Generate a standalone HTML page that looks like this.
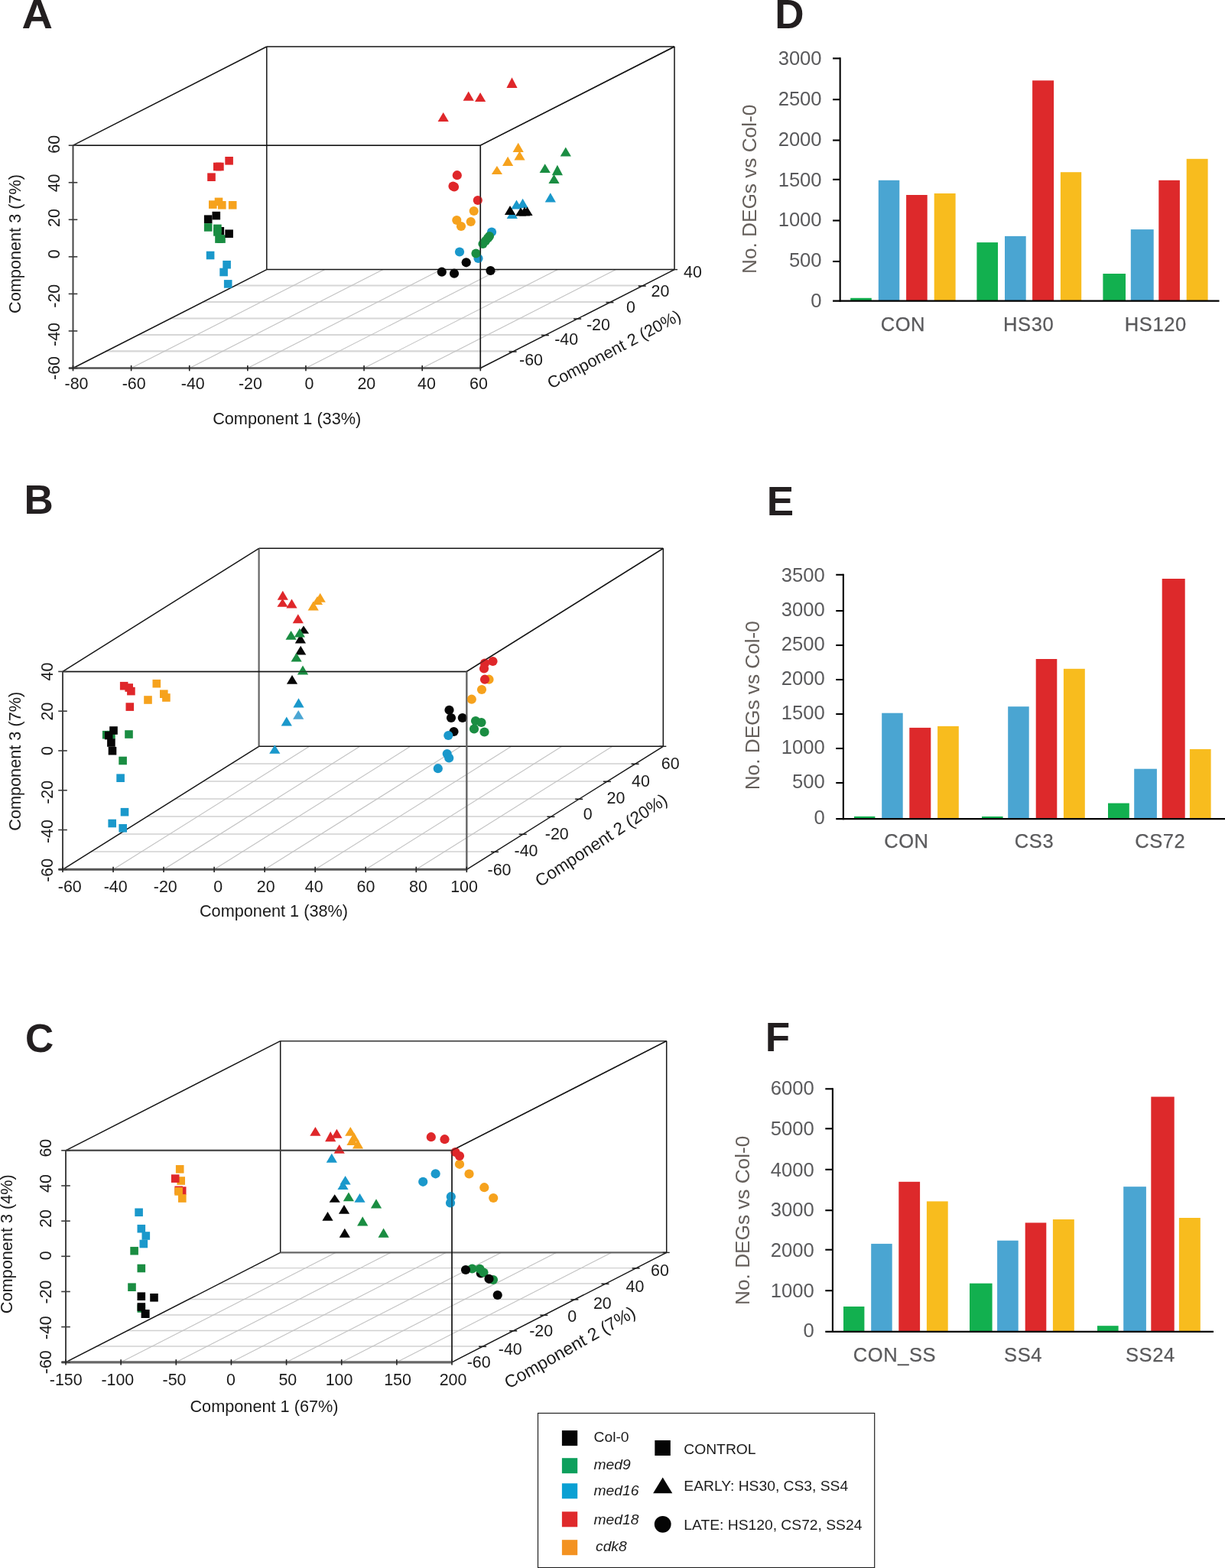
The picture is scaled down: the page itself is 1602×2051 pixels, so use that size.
<!DOCTYPE html>
<html lang="en"><head><meta charset="utf-8"><title>Figure</title>
<style>
html,body{margin:0;padding:0;background:#fff}
body{width:1602px;height:2051px;overflow:hidden}
svg{display:block}
svg text{font-family:"Liberation Sans",sans-serif}
</style></head><body>
<svg width="1602" height="2051" viewBox="0 0 1602 2051">
<rect width="1602" height="2051" fill="#fff"/>
<g>
<line x1="137.78" y1="459.42" x2="670.58" y2="459.42" stroke="#d6d6d6" stroke-width="2.1"/>
<line x1="180.07" y1="437.93" x2="712.87" y2="437.93" stroke="#d6d6d6" stroke-width="2.1"/>
<line x1="222.35" y1="416.45" x2="755.15" y2="416.45" stroke="#d6d6d6" stroke-width="2.1"/>
<line x1="264.63" y1="394.97" x2="797.43" y2="394.97" stroke="#d6d6d6" stroke-width="2.1"/>
<line x1="306.92" y1="373.48" x2="839.72" y2="373.48" stroke="#d6d6d6" stroke-width="2.1"/>
<line x1="171.61" y1="481.5" x2="424.91" y2="352.6" stroke="#c2c2c2" stroke-width="1.1"/>
<line x1="247.73" y1="481.5" x2="501.03" y2="352.6" stroke="#c2c2c2" stroke-width="1.1"/>
<line x1="323.84" y1="481.5" x2="577.14" y2="352.6" stroke="#c2c2c2" stroke-width="1.1"/>
<line x1="399.96" y1="481.5" x2="653.26" y2="352.6" stroke="#c2c2c2" stroke-width="1.1"/>
<line x1="476.07" y1="481.5" x2="729.37" y2="352.6" stroke="#c2c2c2" stroke-width="1.1"/>
<line x1="552.19" y1="481.5" x2="805.49" y2="352.6" stroke="#c2c2c2" stroke-width="1.1"/>
<line x1="348.8" y1="61" x2="882" y2="61" stroke="#151515" stroke-width="1.5"/>
<line x1="348.8" y1="61" x2="348.8" y2="352.6" stroke="#151515" stroke-width="1.5"/>
<line x1="348.8" y1="352.6" x2="882" y2="352.6" stroke="#151515" stroke-width="1.5"/>
<line x1="882" y1="61" x2="882" y2="352.6" stroke="#151515" stroke-width="1.5"/>
<line x1="95.5" y1="190.2" x2="348.8" y2="61" stroke="#151515" stroke-width="1.5"/>
<line x1="95.5" y1="481.5" x2="348.8" y2="352.6" stroke="#151515" stroke-width="1.5"/>
<line x1="628.3" y1="481.5" x2="882" y2="352.6" stroke="#151515" stroke-width="1.45"/>
<line x1="628.3" y1="190.2" x2="882" y2="61" stroke="#151515" stroke-width="1.5"/>
<line x1="95.5" y1="190.2" x2="628.3" y2="190.2" stroke="#151515" stroke-width="1.5"/>
<line x1="628.3" y1="190.2" x2="628.3" y2="481.5" stroke="#151515" stroke-width="1.5"/>
<rect x="282.5" y="297" width="10.6" height="10.6" fill="#060606"/>
<rect x="266.9" y="292.1" width="10.6" height="10.6" fill="#1a8d42"/>
<rect x="279.1" y="293.6" width="10.6" height="10.6" fill="#1a8d42"/>
<rect x="279.1" y="298.1" width="10.6" height="10.6" fill="#1a8d42"/>
<rect x="281.2" y="307.3" width="10.6" height="10.6" fill="#1a8d42"/>
<rect x="284.2" y="307.3" width="10.6" height="10.6" fill="#1a8d42"/>
<rect x="277.5" y="276.8" width="10.6" height="10.6" fill="#060606"/>
<rect x="266.9" y="281.4" width="10.6" height="10.6" fill="#060606"/>
<rect x="294.3" y="300.4" width="10.6" height="10.6" fill="#060606"/>
<rect x="294.3" y="205" width="10.6" height="10.6" fill="#df272a"/>
<rect x="279" y="212.7" width="10.6" height="10.6" fill="#df272a"/>
<rect x="282.1" y="212.7" width="10.6" height="10.6" fill="#df272a"/>
<rect x="271.2" y="226.4" width="10.6" height="10.6" fill="#df272a"/>
<rect x="273" y="262.3" width="10.6" height="10.6" fill="#f6a21d"/>
<rect x="280.7" y="258.6" width="10.6" height="10.6" fill="#f6a21d"/>
<rect x="285" y="263" width="10.6" height="10.6" fill="#f6a21d"/>
<rect x="298.9" y="263" width="10.6" height="10.6" fill="#f6a21d"/>
<rect x="269.8" y="328.7" width="10.6" height="10.6" fill="#1a98cb"/>
<rect x="291.3" y="340.9" width="10.6" height="10.6" fill="#1a98cb"/>
<rect x="287.3" y="350.7" width="10.6" height="10.6" fill="#1a98cb"/>
<rect x="292.9" y="366.1" width="10.6" height="10.6" fill="#1a98cb"/>
<path d="M669.5 101.2L676.6 115H662.4Z" fill="#df272a"/>
<path d="M612.7 119.6L619.8 131.8H605.6Z" fill="#df272a"/>
<path d="M628.1 121L635.2 133.1H621Z" fill="#df272a"/>
<path d="M579.7 147L586.8 159H572.6Z" fill="#df272a"/>
<path d="M677.7 186.7L684.8 198.9H670.6Z" fill="#f6a21d"/>
<path d="M679.5 197.4L686.6 209.5H672.4Z" fill="#f6a21d"/>
<path d="M664.1 204.8L671.2 217.1H657Z" fill="#f6a21d"/>
<path d="M649.9 217.1L657 227.9H642.8Z" fill="#f6a21d"/>
<path d="M739.8 192.4L746.9 204.6H732.7Z" fill="#1a8d42"/>
<path d="M712.7 214.2L719.8 226.1H705.6Z" fill="#1a8d42"/>
<path d="M728.9 215.8L736 229.2H721.8Z" fill="#1a8d42"/>
<path d="M724.5 228L731.6 240H717.4Z" fill="#1a8d42"/>
<path d="M719.8 252.3L726.9 264.4H712.7Z" fill="#1a98cb"/>
<path d="M669.8 274L676.9 286H662.7Z" fill="#1a98cb"/>
<path d="M675.5 261.6L682.6 273.5H668.4Z" fill="#1a98cb"/>
<path d="M683.6 259.8L690.7 272H676.5Z" fill="#1a98cb"/>
<path d="M667 269.1L674.1 281H659.9Z" fill="#060606"/>
<path d="M681 271.5L688.1 282.5H673.9Z" fill="#060606"/>
<path d="M686 270.5L693.1 282.5H678.9Z" fill="#060606"/>
<path d="M689.5 270.5L696.6 282H682.4Z" fill="#060606"/>
<circle cx="597.8" cy="229.2" r="6.1" fill="#df272a"/>
<circle cx="592.5" cy="243.5" r="6.1" fill="#df272a"/>
<circle cx="594" cy="244.5" r="6.1" fill="#df272a"/>
<circle cx="624.8" cy="262" r="6.1" fill="#df272a"/>
<circle cx="619.7" cy="276" r="6.1" fill="#f6a21d"/>
<circle cx="597.3" cy="288" r="6.1" fill="#f6a21d"/>
<circle cx="603" cy="296" r="6.1" fill="#f6a21d"/>
<circle cx="615.7" cy="290" r="6.1" fill="#f6a21d"/>
<circle cx="643" cy="303.5" r="6.1" fill="#1a98cb"/>
<circle cx="601" cy="329.5" r="6.1" fill="#1a98cb"/>
<circle cx="625.5" cy="338" r="6.1" fill="#1a98cb"/>
<circle cx="640" cy="309" r="6.1" fill="#1a8d42"/>
<circle cx="638" cy="311.5" r="6.1" fill="#1a8d42"/>
<circle cx="635" cy="315" r="6.1" fill="#1a8d42"/>
<circle cx="631.5" cy="319" r="6.1" fill="#1a8d42"/>
<circle cx="622.5" cy="331.5" r="6.1" fill="#1a8d42"/>
<circle cx="609.7" cy="343.3" r="6.1" fill="#060606"/>
<circle cx="577.8" cy="355.7" r="6.1" fill="#060606"/>
<circle cx="594" cy="357.7" r="6.1" fill="#060606"/>
<circle cx="641.5" cy="354" r="6.1" fill="#060606"/>
<line x1="628.3" y1="190.2" x2="882" y2="61" stroke="#151515" stroke-width="1.5" opacity="0.55"/>
<line x1="95.5" y1="190.2" x2="628.3" y2="190.2" stroke="#151515" stroke-width="1.5" opacity="0.55"/>
<line x1="628.3" y1="190.2" x2="628.3" y2="481.5" stroke="#151515" stroke-width="1.5" opacity="0.55"/>
<line x1="95.5" y1="190.2" x2="95.5" y2="481.5" stroke="#444" stroke-width="2"/>
<line x1="90" y1="481.5" x2="629.3" y2="481.5" stroke="#505050" stroke-width="2.6"/>
<line x1="89.7" y1="190.2" x2="101.3" y2="190.2" stroke="#3a3a3a" stroke-width="1.6"/>
<line x1="89.7" y1="238.75" x2="101.3" y2="238.75" stroke="#3a3a3a" stroke-width="1.6"/>
<line x1="89.7" y1="287.3" x2="101.3" y2="287.3" stroke="#3a3a3a" stroke-width="1.6"/>
<line x1="89.7" y1="335.85" x2="101.3" y2="335.85" stroke="#3a3a3a" stroke-width="1.6"/>
<line x1="89.7" y1="384.4" x2="101.3" y2="384.4" stroke="#3a3a3a" stroke-width="1.6"/>
<line x1="89.7" y1="432.95" x2="101.3" y2="432.95" stroke="#3a3a3a" stroke-width="1.6"/>
<line x1="89.7" y1="481.5" x2="101.3" y2="481.5" stroke="#3a3a3a" stroke-width="1.6"/>
<line x1="95.5" y1="477.9" x2="95.5" y2="485.3" stroke="#222" stroke-width="1.6"/>
<line x1="171.61" y1="477.9" x2="171.61" y2="485.3" stroke="#222" stroke-width="1.6"/>
<line x1="247.73" y1="477.9" x2="247.73" y2="485.3" stroke="#222" stroke-width="1.6"/>
<line x1="323.84" y1="477.9" x2="323.84" y2="485.3" stroke="#222" stroke-width="1.6"/>
<line x1="399.96" y1="477.9" x2="399.96" y2="485.3" stroke="#222" stroke-width="1.6"/>
<line x1="476.07" y1="477.9" x2="476.07" y2="485.3" stroke="#222" stroke-width="1.6"/>
<line x1="552.19" y1="477.9" x2="552.19" y2="485.3" stroke="#222" stroke-width="1.6"/>
<line x1="628.3" y1="477.9" x2="628.3" y2="485.3" stroke="#222" stroke-width="1.6"/>
<line x1="665.58" y1="460.02" x2="675.58" y2="460.02" stroke="#222" stroke-width="1.6"/>
<line x1="707.87" y1="438.53" x2="717.87" y2="438.53" stroke="#222" stroke-width="1.6"/>
<line x1="750.15" y1="417.05" x2="760.15" y2="417.05" stroke="#222" stroke-width="1.6"/>
<line x1="792.43" y1="395.57" x2="802.43" y2="395.57" stroke="#222" stroke-width="1.6"/>
<line x1="834.72" y1="374.08" x2="844.72" y2="374.08" stroke="#222" stroke-width="1.6"/>
<line x1="877" y1="352.6" x2="886" y2="352.6" stroke="#222" stroke-width="1.4"/>
</g>
<text x="100" y="509" font-size="21.4" text-anchor="middle" fill="#1a1a1a">-80</text>
<text x="175.2" y="509" font-size="21.4" text-anchor="middle" fill="#1a1a1a">-60</text>
<text x="252.3" y="509" font-size="21.4" text-anchor="middle" fill="#1a1a1a">-40</text>
<text x="327.4" y="509" font-size="21.4" text-anchor="middle" fill="#1a1a1a">-20</text>
<text x="404.5" y="509" font-size="21.4" text-anchor="middle" fill="#1a1a1a">0</text>
<text x="479.3" y="509" font-size="21.4" text-anchor="middle" fill="#1a1a1a">20</text>
<text x="558" y="509" font-size="21.4" text-anchor="middle" fill="#1a1a1a">40</text>
<text x="625.9" y="509" font-size="21.4" text-anchor="middle" fill="#1a1a1a">60</text>
<text x="78" y="188.8" font-size="21.4" text-anchor="middle" fill="#1a1a1a" transform="rotate(-90 78 188.8)">60</text>
<text x="78" y="239.4" font-size="21.4" text-anchor="middle" fill="#1a1a1a" transform="rotate(-90 78 239.4)">40</text>
<text x="78" y="285.1" font-size="21.4" text-anchor="middle" fill="#1a1a1a" transform="rotate(-90 78 285.1)">20</text>
<text x="78" y="332.4" font-size="21.4" text-anchor="middle" fill="#1a1a1a" transform="rotate(-90 78 332.4)">0</text>
<text x="78" y="387.2" font-size="21.4" text-anchor="middle" fill="#1a1a1a" transform="rotate(-90 78 387.2)">-20</text>
<text x="78" y="437.5" font-size="21.4" text-anchor="middle" fill="#1a1a1a" transform="rotate(-90 78 437.5)">-40</text>
<text x="78" y="481.5" font-size="21.4" text-anchor="middle" fill="#1a1a1a" transform="rotate(-90 78 481.5)">-60</text>
<text x="906" y="362.7" font-size="21.4" text-anchor="middle" fill="#1a1a1a">40</text>
<text x="863.5" y="388" font-size="21.4" text-anchor="middle" fill="#1a1a1a">20</text>
<text x="824.9" y="408.9" font-size="21.4" text-anchor="middle" fill="#1a1a1a">0</text>
<text x="782.4" y="432.3" font-size="21.4" text-anchor="middle" fill="#1a1a1a">-20</text>
<text x="740.7" y="451" font-size="21.4" text-anchor="middle" fill="#1a1a1a">-40</text>
<text x="694.5" y="477.5" font-size="21.4" text-anchor="middle" fill="#1a1a1a">-60</text>
<text x="375.2" y="555" font-size="21.7" text-anchor="middle" fill="#1a1a1a">Component 1 (33%)</text>
<text x="27" y="319" font-size="21.7" text-anchor="middle" fill="#1a1a1a" transform="rotate(-90 27 319)">Component 3 (7%)</text>
<text x="806.5" y="463.4" font-size="21.7" text-anchor="middle" fill="#1a1a1a" transform="rotate(-28 806.5 463.4)">Component 2 (20%)</text>
<g>
<line x1="118.71" y1="1114" x2="647.01" y2="1114" stroke="#d0d0d0" stroke-width="1.3"/>
<line x1="155.43" y1="1091" x2="683.73" y2="1091" stroke="#d0d0d0" stroke-width="1.3"/>
<line x1="192.14" y1="1068" x2="720.44" y2="1068" stroke="#d0d0d0" stroke-width="1.3"/>
<line x1="228.86" y1="1045" x2="757.16" y2="1045" stroke="#d0d0d0" stroke-width="1.3"/>
<line x1="265.57" y1="1022" x2="793.87" y2="1022" stroke="#d0d0d0" stroke-width="1.3"/>
<line x1="302.29" y1="999" x2="830.59" y2="999" stroke="#d0d0d0" stroke-width="1.3"/>
<line x1="148.04" y1="1137.3" x2="404.64" y2="976.3" stroke="#c2c2c2" stroke-width="1.1"/>
<line x1="214.07" y1="1137.3" x2="470.68" y2="976.3" stroke="#c2c2c2" stroke-width="1.1"/>
<line x1="280.11" y1="1137.3" x2="536.71" y2="976.3" stroke="#c2c2c2" stroke-width="1.1"/>
<line x1="346.15" y1="1137.3" x2="602.75" y2="976.3" stroke="#c2c2c2" stroke-width="1.1"/>
<line x1="412.19" y1="1137.3" x2="668.79" y2="976.3" stroke="#c2c2c2" stroke-width="1.1"/>
<line x1="478.22" y1="1137.3" x2="734.83" y2="976.3" stroke="#c2c2c2" stroke-width="1.1"/>
<line x1="544.26" y1="1137.3" x2="800.86" y2="976.3" stroke="#c2c2c2" stroke-width="1.1"/>
<line x1="338.6" y1="717.3" x2="867.3" y2="717.3" stroke="#151515" stroke-width="1.5"/>
<line x1="338.6" y1="717.3" x2="338.6" y2="976.3" stroke="#666" stroke-width="2.2"/>
<line x1="338.6" y1="976.3" x2="867.3" y2="976.3" stroke="#151515" stroke-width="1.5"/>
<line x1="867.3" y1="717.3" x2="867.3" y2="976.3" stroke="#151515" stroke-width="1.5"/>
<line x1="82" y1="878.4" x2="338.6" y2="717.3" stroke="#151515" stroke-width="1.5"/>
<line x1="82" y1="1137.3" x2="338.6" y2="976.3" stroke="#151515" stroke-width="1.5"/>
<line x1="610.3" y1="1137.3" x2="867.3" y2="976.3" stroke="#151515" stroke-width="1.45"/>
<line x1="610.3" y1="878.4" x2="867.3" y2="717.3" stroke="#151515" stroke-width="1.5"/>
<line x1="82" y1="878.4" x2="610.3" y2="878.4" stroke="#151515" stroke-width="1.5"/>
<line x1="610.3" y1="878.4" x2="610.3" y2="1137.3" stroke="#666" stroke-width="2.2"/>
<rect x="133.9" y="955.9" width="10.6" height="10.6" fill="#1a8d42"/>
<rect x="140.1" y="955.9" width="10.6" height="10.6" fill="#1a8d42"/>
<rect x="163.2" y="955.2" width="10.6" height="10.6" fill="#1a8d42"/>
<rect x="155.3" y="989.7" width="10.6" height="10.6" fill="#1a8d42"/>
<rect x="143.2" y="950.2" width="10.6" height="10.6" fill="#060606"/>
<rect x="136.9" y="956.7" width="10.6" height="10.6" fill="#060606"/>
<rect x="140.1" y="966.2" width="10.6" height="10.6" fill="#060606"/>
<rect x="141.7" y="976.9" width="10.6" height="10.6" fill="#060606"/>
<rect x="156.9" y="891.9" width="10.6" height="10.6" fill="#df272a"/>
<rect x="163.4" y="894.2" width="10.6" height="10.6" fill="#df272a"/>
<rect x="166.1" y="898.8" width="10.6" height="10.6" fill="#df272a"/>
<rect x="164.5" y="919.3" width="10.6" height="10.6" fill="#df272a"/>
<rect x="199.5" y="888.9" width="10.6" height="10.6" fill="#f6a21d"/>
<rect x="209" y="902.4" width="10.6" height="10.6" fill="#f6a21d"/>
<rect x="212.1" y="907.2" width="10.6" height="10.6" fill="#f6a21d"/>
<rect x="188.2" y="910.2" width="10.6" height="10.6" fill="#f6a21d"/>
<rect x="152.3" y="1012.4" width="10.6" height="10.6" fill="#1a98cb"/>
<rect x="157.7" y="1056.9" width="10.6" height="10.6" fill="#1a98cb"/>
<rect x="141.4" y="1071.7" width="10.6" height="10.6" fill="#1a98cb"/>
<rect x="155.4" y="1078" width="10.6" height="10.6" fill="#1a98cb"/>
<path d="M369.8 772.8L376.9 784.8H362.7Z" fill="#df272a"/>
<path d="M369.5 783L376.6 793.8H362.4Z" fill="#df272a"/>
<path d="M381.5 783.5L388.6 795.5H374.4Z" fill="#df272a"/>
<path d="M389.8 803.2L396.9 815.2H382.7Z" fill="#df272a"/>
<path d="M418.7 775.8L425.8 787.8H411.6Z" fill="#f6a21d"/>
<path d="M415 780L422.1 791H407.9Z" fill="#f6a21d"/>
<path d="M409.7 786.5L416.8 798.5H402.6Z" fill="#f6a21d"/>
<path d="M397 818.5L404.1 828.8H389.9Z" fill="#060606"/>
<path d="M392.9 829.5L400 841.5H385.8Z" fill="#060606"/>
<path d="M393.2 844.8L400.3 856.5H386.1Z" fill="#060606"/>
<path d="M382 883L389.1 894.8H374.9Z" fill="#060606"/>
<path d="M380.6 825L387.7 836.8H373.5Z" fill="#1a8d42"/>
<path d="M391.9 821.8L399 833.5H384.8Z" fill="#1a8d42"/>
<path d="M387.6 854L394.7 865.5H380.5Z" fill="#1a8d42"/>
<path d="M396 870.5L403.1 882.5H388.9Z" fill="#1a8d42"/>
<path d="M390.5 913.2L397.6 925.5H383.4Z" fill="#1a98cb"/>
<path d="M390.2 929L397.3 940.8H383.1Z" fill="#4ba6d3"/>
<path d="M374.8 937.5L381.9 949.5H367.7Z" fill="#1a98cb"/>
<path d="M359.3 974.3L366.4 985.7H352.2Z" fill="#1a98cb"/>
<circle cx="639.5" cy="888.7" r="6.1" fill="#f6a21d"/>
<circle cx="630" cy="902" r="6.1" fill="#f6a21d"/>
<circle cx="616.8" cy="914.7" r="6.1" fill="#f6a21d"/>
<circle cx="644.5" cy="865" r="6.1" fill="#df272a"/>
<circle cx="634" cy="867.5" r="6.1" fill="#df272a"/>
<circle cx="633" cy="874.5" r="6.1" fill="#df272a"/>
<circle cx="634" cy="888.7" r="6.1" fill="#df272a"/>
<circle cx="587.5" cy="928.8" r="6.1" fill="#060606"/>
<circle cx="590" cy="939" r="6.1" fill="#060606"/>
<circle cx="604.8" cy="939" r="6.1" fill="#060606"/>
<circle cx="593.5" cy="957" r="6.1" fill="#060606"/>
<circle cx="622" cy="943" r="6.1" fill="#1a8d42"/>
<circle cx="629.5" cy="945" r="6.1" fill="#1a8d42"/>
<circle cx="620" cy="953.5" r="6.1" fill="#1a8d42"/>
<circle cx="633.5" cy="957.5" r="6.1" fill="#1a8d42"/>
<circle cx="586.3" cy="962" r="6.1" fill="#1a98cb"/>
<circle cx="584.7" cy="986" r="6.1" fill="#1a98cb"/>
<circle cx="587.2" cy="991.5" r="6.1" fill="#1a98cb"/>
<circle cx="572.8" cy="1005.2" r="6.1" fill="#1a98cb"/>
<line x1="610.3" y1="878.4" x2="867.3" y2="717.3" stroke="#151515" stroke-width="1.5" opacity="0.55"/>
<line x1="82" y1="878.4" x2="610.3" y2="878.4" stroke="#151515" stroke-width="1.5" opacity="0.55"/>
<line x1="610.3" y1="878.4" x2="610.3" y2="1137.3" stroke="#666" stroke-width="2.2" opacity="0.55"/>
<line x1="82" y1="878.4" x2="82" y2="1137.3" stroke="#444" stroke-width="2"/>
<line x1="76.5" y1="1137.3" x2="611.3" y2="1137.3" stroke="#555" stroke-width="3.1"/>
<line x1="76.2" y1="878.4" x2="87.8" y2="878.4" stroke="#3a3a3a" stroke-width="1.6"/>
<line x1="76.2" y1="930.18" x2="87.8" y2="930.18" stroke="#3a3a3a" stroke-width="1.6"/>
<line x1="76.2" y1="981.96" x2="87.8" y2="981.96" stroke="#3a3a3a" stroke-width="1.6"/>
<line x1="76.2" y1="1033.74" x2="87.8" y2="1033.74" stroke="#3a3a3a" stroke-width="1.6"/>
<line x1="76.2" y1="1085.52" x2="87.8" y2="1085.52" stroke="#3a3a3a" stroke-width="1.6"/>
<line x1="76.2" y1="1137.3" x2="87.8" y2="1137.3" stroke="#3a3a3a" stroke-width="1.6"/>
<line x1="82" y1="1133.7" x2="82" y2="1141.1" stroke="#222" stroke-width="1.6"/>
<line x1="148.04" y1="1133.7" x2="148.04" y2="1141.1" stroke="#222" stroke-width="1.6"/>
<line x1="214.07" y1="1133.7" x2="214.07" y2="1141.1" stroke="#222" stroke-width="1.6"/>
<line x1="280.11" y1="1133.7" x2="280.11" y2="1141.1" stroke="#222" stroke-width="1.6"/>
<line x1="346.15" y1="1133.7" x2="346.15" y2="1141.1" stroke="#222" stroke-width="1.6"/>
<line x1="412.19" y1="1133.7" x2="412.19" y2="1141.1" stroke="#222" stroke-width="1.6"/>
<line x1="478.22" y1="1133.7" x2="478.22" y2="1141.1" stroke="#222" stroke-width="1.6"/>
<line x1="544.26" y1="1133.7" x2="544.26" y2="1141.1" stroke="#222" stroke-width="1.6"/>
<line x1="610.3" y1="1133.7" x2="610.3" y2="1141.1" stroke="#222" stroke-width="1.6"/>
<line x1="642.01" y1="1114.3" x2="652.01" y2="1114.3" stroke="#222" stroke-width="1.6"/>
<line x1="678.73" y1="1091.3" x2="688.73" y2="1091.3" stroke="#222" stroke-width="1.6"/>
<line x1="715.44" y1="1068.3" x2="725.44" y2="1068.3" stroke="#222" stroke-width="1.6"/>
<line x1="752.16" y1="1045.3" x2="762.16" y2="1045.3" stroke="#222" stroke-width="1.6"/>
<line x1="788.87" y1="1022.3" x2="798.87" y2="1022.3" stroke="#222" stroke-width="1.6"/>
<line x1="825.59" y1="999.3" x2="835.59" y2="999.3" stroke="#222" stroke-width="1.6"/>
<line x1="862.3" y1="976.3" x2="871.3" y2="976.3" stroke="#222" stroke-width="1.4"/>
</g>
<text x="91.3" y="1166.7" font-size="21.4" text-anchor="middle" fill="#1a1a1a">-60</text>
<text x="151.2" y="1166.7" font-size="21.4" text-anchor="middle" fill="#1a1a1a">-40</text>
<text x="216.3" y="1166.7" font-size="21.4" text-anchor="middle" fill="#1a1a1a">-20</text>
<text x="285.3" y="1166.7" font-size="21.4" text-anchor="middle" fill="#1a1a1a">0</text>
<text x="347.7" y="1166.7" font-size="21.4" text-anchor="middle" fill="#1a1a1a">20</text>
<text x="410.7" y="1166.7" font-size="21.4" text-anchor="middle" fill="#1a1a1a">40</text>
<text x="478.5" y="1166.7" font-size="21.4" text-anchor="middle" fill="#1a1a1a">60</text>
<text x="547" y="1166.7" font-size="21.4" text-anchor="middle" fill="#1a1a1a">80</text>
<text x="607" y="1166.7" font-size="21.4" text-anchor="middle" fill="#1a1a1a">100</text>
<text x="69" y="878.5" font-size="21.4" text-anchor="middle" fill="#1a1a1a" transform="rotate(-90 69 878.5)">40</text>
<text x="69" y="930.5" font-size="21.4" text-anchor="middle" fill="#1a1a1a" transform="rotate(-90 69 930.5)">20</text>
<text x="69" y="982.1" font-size="21.4" text-anchor="middle" fill="#1a1a1a" transform="rotate(-90 69 982.1)">0</text>
<text x="69" y="1036.3" font-size="21.4" text-anchor="middle" fill="#1a1a1a" transform="rotate(-90 69 1036.3)">-20</text>
<text x="69" y="1087.6" font-size="21.4" text-anchor="middle" fill="#1a1a1a" transform="rotate(-90 69 1087.6)">-40</text>
<text x="69" y="1138.3" font-size="21.4" text-anchor="middle" fill="#1a1a1a" transform="rotate(-90 69 1138.3)">-60</text>
<text x="876.7" y="1005.7" font-size="21.4" text-anchor="middle" fill="#1a1a1a">60</text>
<text x="838" y="1029.3" font-size="21.4" text-anchor="middle" fill="#1a1a1a">40</text>
<text x="805.5" y="1050.7" font-size="21.4" text-anchor="middle" fill="#1a1a1a">20</text>
<text x="768.7" y="1071.7" font-size="21.4" text-anchor="middle" fill="#1a1a1a">0</text>
<text x="728.3" y="1097.7" font-size="21.4" text-anchor="middle" fill="#1a1a1a">-20</text>
<text x="688" y="1120" font-size="21.4" text-anchor="middle" fill="#1a1a1a">-40</text>
<text x="653" y="1145" font-size="21.4" text-anchor="middle" fill="#1a1a1a">-60</text>
<text x="358" y="1199.1" font-size="21.7" text-anchor="middle" fill="#1a1a1a">Component 1 (38%)</text>
<text x="26.7" y="995.8" font-size="21.7" text-anchor="middle" fill="#1a1a1a" transform="rotate(-90 26.7 995.8)">Component 3 (7%)</text>
<text x="790.3" y="1105.5" font-size="22.5" text-anchor="middle" fill="#1a1a1a" transform="rotate(-33.3 790.3 1105.5)">Component 2 (20%)</text>
<g>
<line x1="126.1" y1="1761.01" x2="631.1" y2="1761.01" stroke="#d0d0d0" stroke-width="1.4"/>
<line x1="166.2" y1="1740.53" x2="671.2" y2="1740.53" stroke="#d0d0d0" stroke-width="1.4"/>
<line x1="206.3" y1="1720.04" x2="711.3" y2="1720.04" stroke="#d0d0d0" stroke-width="1.4"/>
<line x1="246.4" y1="1699.56" x2="751.4" y2="1699.56" stroke="#d0d0d0" stroke-width="1.4"/>
<line x1="286.5" y1="1679.07" x2="791.5" y2="1679.07" stroke="#d0d0d0" stroke-width="1.4"/>
<line x1="326.6" y1="1658.59" x2="831.6" y2="1658.59" stroke="#d0d0d0" stroke-width="1.4"/>
<line x1="158.14" y1="1781.8" x2="438.84" y2="1638.4" stroke="#c2c2c2" stroke-width="1.1"/>
<line x1="230.29" y1="1781.8" x2="510.99" y2="1638.4" stroke="#c2c2c2" stroke-width="1.1"/>
<line x1="302.43" y1="1781.8" x2="583.13" y2="1638.4" stroke="#c2c2c2" stroke-width="1.1"/>
<line x1="374.57" y1="1781.8" x2="655.27" y2="1638.4" stroke="#c2c2c2" stroke-width="1.1"/>
<line x1="446.71" y1="1781.8" x2="727.41" y2="1638.4" stroke="#c2c2c2" stroke-width="1.1"/>
<line x1="518.86" y1="1781.8" x2="799.56" y2="1638.4" stroke="#c2c2c2" stroke-width="1.1"/>
<line x1="366.7" y1="1361.7" x2="871.7" y2="1361.7" stroke="#333" stroke-width="1.6"/>
<line x1="366.7" y1="1361.7" x2="366.7" y2="1638.4" stroke="#151515" stroke-width="1.5"/>
<line x1="366.7" y1="1638.4" x2="871.7" y2="1638.4" stroke="#666" stroke-width="2.4"/>
<line x1="871.7" y1="1361.7" x2="871.7" y2="1638.4" stroke="#151515" stroke-width="1.5"/>
<line x1="86" y1="1504.8" x2="366.7" y2="1361.7" stroke="#151515" stroke-width="1.5"/>
<line x1="86" y1="1781.8" x2="366.7" y2="1638.4" stroke="#151515" stroke-width="1.5"/>
<line x1="591" y1="1781.8" x2="871.7" y2="1638.4" stroke="#151515" stroke-width="1.45"/>
<line x1="591" y1="1504.8" x2="871.7" y2="1361.7" stroke="#151515" stroke-width="1.5"/>
<line x1="86" y1="1504.8" x2="591" y2="1504.8" stroke="#444" stroke-width="2"/>
<line x1="591" y1="1504.8" x2="591" y2="1781.8" stroke="#151515" stroke-width="1.5"/>
<rect x="228.4" y="1551.5" width="10.6" height="10.6" fill="#df272a"/>
<rect x="232.9" y="1552.3" width="10.6" height="10.6" fill="#df272a"/>
<rect x="229.9" y="1524" width="10.6" height="10.6" fill="#f6a21d"/>
<rect x="231.4" y="1539.2" width="10.6" height="10.6" fill="#f6a21d"/>
<rect x="228.3" y="1553.1" width="10.6" height="10.6" fill="#f6a21d"/>
<rect x="233" y="1562.2" width="10.6" height="10.6" fill="#f6a21d"/>
<rect x="223.9" y="1536.3" width="10.6" height="10.6" fill="#df272a"/>
<rect x="176.3" y="1580.5" width="10.6" height="10.6" fill="#1a98cb"/>
<rect x="179.5" y="1601.9" width="10.6" height="10.6" fill="#1a98cb"/>
<rect x="185.5" y="1611.2" width="10.6" height="10.6" fill="#1a98cb"/>
<rect x="182.5" y="1621.7" width="10.6" height="10.6" fill="#1a98cb"/>
<rect x="170.3" y="1630.9" width="10.6" height="10.6" fill="#1a8d42"/>
<rect x="179.5" y="1653.7" width="10.6" height="10.6" fill="#1a8d42"/>
<rect x="167.2" y="1678.4" width="10.6" height="10.6" fill="#1a8d42"/>
<rect x="179.5" y="1706.2" width="10.6" height="10.6" fill="#1a8d42"/>
<rect x="179.5" y="1690.4" width="10.6" height="10.6" fill="#060606"/>
<rect x="196.2" y="1692" width="10.6" height="10.6" fill="#060606"/>
<rect x="179.5" y="1704.2" width="10.6" height="10.6" fill="#060606"/>
<rect x="184.6" y="1713" width="11" height="11" fill="#060606"/>
<path d="M412.4 1474L419.5 1485.8H405.3Z" fill="#df272a"/>
<path d="M432.2 1480L439.3 1493.3H425.1Z" fill="#df272a"/>
<path d="M440.4 1476.8L447.5 1488.8H433.3Z" fill="#df272a"/>
<path d="M443.7 1497L450.8 1508.7H436.6Z" fill="#df272a"/>
<path d="M458.3 1474L465.4 1485.8H451.2Z" fill="#f6a21d"/>
<path d="M460.5 1486L467.6 1498H453.4Z" fill="#f6a21d"/>
<path d="M463 1481.5L470.1 1493.5H455.9Z" fill="#f6a21d"/>
<path d="M468 1490.5L475.1 1502.5H460.9Z" fill="#f6a21d"/>
<path d="M433.8 1508.8L440.9 1520.8H426.7Z" fill="#1a98cb"/>
<path d="M451.6 1538L458.7 1549.5H444.5Z" fill="#1a98cb"/>
<path d="M448.5 1544.5L455.6 1556H441.4Z" fill="#1a98cb"/>
<path d="M470.5 1561L477.6 1572.8H463.4Z" fill="#1a98cb"/>
<path d="M437.7 1562.2L444.8 1572.8H430.6Z" fill="#060606"/>
<path d="M450 1576L457.1 1587.8H442.9Z" fill="#060606"/>
<path d="M428.5 1585L435.6 1596.8H421.4Z" fill="#060606"/>
<path d="M450.8 1606.8L457.9 1618.8H443.7Z" fill="#060606"/>
<path d="M455.9 1559.5L463 1571.2H448.8Z" fill="#1a8d42"/>
<path d="M492 1568.2L499.1 1580.5H484.9Z" fill="#1a8d42"/>
<path d="M474.2 1591.2L481.3 1603.5H467.1Z" fill="#1a8d42"/>
<path d="M501.6 1606.5L508.7 1618.8H494.5Z" fill="#1a8d42"/>
<circle cx="563.8" cy="1487.2" r="6.1" fill="#df272a"/>
<circle cx="581.5" cy="1490.2" r="6.1" fill="#df272a"/>
<circle cx="595.5" cy="1507" r="6.1" fill="#df272a"/>
<circle cx="601" cy="1522.8" r="6.1" fill="#f6a21d"/>
<circle cx="613.5" cy="1535.5" r="6.1" fill="#f6a21d"/>
<circle cx="633.3" cy="1553.2" r="6.1" fill="#f6a21d"/>
<circle cx="645.2" cy="1567" r="6.1" fill="#f6a21d"/>
<circle cx="601" cy="1512" r="6.1" fill="#df272a"/>
<circle cx="569.6" cy="1535.3" r="6.1" fill="#1a98cb"/>
<circle cx="553.2" cy="1545.8" r="6.1" fill="#1a98cb"/>
<circle cx="589.8" cy="1565.2" r="6.1" fill="#1a98cb"/>
<circle cx="589" cy="1573.5" r="6.1" fill="#1a98cb"/>
<circle cx="617.5" cy="1659.5" r="6.1" fill="#1a8d42"/>
<circle cx="609" cy="1661" r="6.1" fill="#060606"/>
<circle cx="628.8" cy="1665.5" r="6.1" fill="#060606"/>
<circle cx="627.5" cy="1659.8" r="6.1" fill="#1a8d42"/>
<circle cx="632.5" cy="1664.5" r="6.1" fill="#1a8d42"/>
<circle cx="645" cy="1674" r="6.1" fill="#1a8d42"/>
<circle cx="639.5" cy="1672.8" r="6.1" fill="#060606"/>
<circle cx="650.7" cy="1694" r="6.1" fill="#060606"/>
<line x1="591" y1="1504.8" x2="871.7" y2="1361.7" stroke="#151515" stroke-width="1.5" opacity="0.55"/>
<line x1="86" y1="1504.8" x2="591" y2="1504.8" stroke="#444" stroke-width="2" opacity="0.55"/>
<line x1="591" y1="1504.8" x2="591" y2="1781.8" stroke="#151515" stroke-width="1.5" opacity="0.55"/>
<line x1="86" y1="1504.8" x2="86" y2="1781.8" stroke="#444" stroke-width="2"/>
<line x1="80.5" y1="1781.8" x2="592" y2="1781.8" stroke="#666" stroke-width="3.2"/>
<line x1="80.2" y1="1504.8" x2="91.8" y2="1504.8" stroke="#3a3a3a" stroke-width="1.6"/>
<line x1="80.2" y1="1550.97" x2="91.8" y2="1550.97" stroke="#3a3a3a" stroke-width="1.6"/>
<line x1="80.2" y1="1597.13" x2="91.8" y2="1597.13" stroke="#3a3a3a" stroke-width="1.6"/>
<line x1="80.2" y1="1643.3" x2="91.8" y2="1643.3" stroke="#3a3a3a" stroke-width="1.6"/>
<line x1="80.2" y1="1689.47" x2="91.8" y2="1689.47" stroke="#3a3a3a" stroke-width="1.6"/>
<line x1="80.2" y1="1735.63" x2="91.8" y2="1735.63" stroke="#3a3a3a" stroke-width="1.6"/>
<line x1="80.2" y1="1781.8" x2="91.8" y2="1781.8" stroke="#3a3a3a" stroke-width="1.6"/>
<line x1="86" y1="1778.2" x2="86" y2="1785.6" stroke="#222" stroke-width="1.6"/>
<line x1="158.14" y1="1778.2" x2="158.14" y2="1785.6" stroke="#222" stroke-width="1.6"/>
<line x1="230.29" y1="1778.2" x2="230.29" y2="1785.6" stroke="#222" stroke-width="1.6"/>
<line x1="302.43" y1="1778.2" x2="302.43" y2="1785.6" stroke="#222" stroke-width="1.6"/>
<line x1="374.57" y1="1778.2" x2="374.57" y2="1785.6" stroke="#222" stroke-width="1.6"/>
<line x1="446.71" y1="1778.2" x2="446.71" y2="1785.6" stroke="#222" stroke-width="1.6"/>
<line x1="518.86" y1="1778.2" x2="518.86" y2="1785.6" stroke="#222" stroke-width="1.6"/>
<line x1="591" y1="1778.2" x2="591" y2="1785.6" stroke="#222" stroke-width="1.6"/>
<line x1="626.1" y1="1761.31" x2="636.1" y2="1761.31" stroke="#222" stroke-width="1.6"/>
<line x1="666.2" y1="1740.83" x2="676.2" y2="1740.83" stroke="#222" stroke-width="1.6"/>
<line x1="706.3" y1="1720.34" x2="716.3" y2="1720.34" stroke="#222" stroke-width="1.6"/>
<line x1="746.4" y1="1699.86" x2="756.4" y2="1699.86" stroke="#222" stroke-width="1.6"/>
<line x1="786.5" y1="1679.37" x2="796.5" y2="1679.37" stroke="#222" stroke-width="1.6"/>
<line x1="826.6" y1="1658.89" x2="836.6" y2="1658.89" stroke="#222" stroke-width="1.6"/>
<line x1="866.7" y1="1638.4" x2="875.7" y2="1638.4" stroke="#222" stroke-width="1.4"/>
</g>
<text x="86.2" y="1811.7" font-size="21.4" text-anchor="middle" fill="#1a1a1a">-150</text>
<text x="153.8" y="1811.7" font-size="21.4" text-anchor="middle" fill="#1a1a1a">-100</text>
<text x="228" y="1811.7" font-size="21.4" text-anchor="middle" fill="#1a1a1a">-50</text>
<text x="302" y="1811.7" font-size="21.4" text-anchor="middle" fill="#1a1a1a">0</text>
<text x="376.3" y="1811.7" font-size="21.4" text-anchor="middle" fill="#1a1a1a">50</text>
<text x="443.5" y="1811.7" font-size="21.4" text-anchor="middle" fill="#1a1a1a">100</text>
<text x="520" y="1811.7" font-size="21.4" text-anchor="middle" fill="#1a1a1a">150</text>
<text x="592.5" y="1811.7" font-size="21.4" text-anchor="middle" fill="#1a1a1a">200</text>
<text x="66.7" y="1501.7" font-size="21.4" text-anchor="middle" fill="#1a1a1a" transform="rotate(-90 66.7 1501.7)">60</text>
<text x="66.7" y="1548" font-size="21.4" text-anchor="middle" fill="#1a1a1a" transform="rotate(-90 66.7 1548)">40</text>
<text x="66.7" y="1593.9" font-size="21.4" text-anchor="middle" fill="#1a1a1a" transform="rotate(-90 66.7 1593.9)">20</text>
<text x="66.7" y="1642.3" font-size="21.4" text-anchor="middle" fill="#1a1a1a" transform="rotate(-90 66.7 1642.3)">0</text>
<text x="66.7" y="1690" font-size="21.4" text-anchor="middle" fill="#1a1a1a" transform="rotate(-90 66.7 1690)">-20</text>
<text x="66.7" y="1736.7" font-size="21.4" text-anchor="middle" fill="#1a1a1a" transform="rotate(-90 66.7 1736.7)">-40</text>
<text x="66.7" y="1781.7" font-size="21.4" text-anchor="middle" fill="#1a1a1a" transform="rotate(-90 66.7 1781.7)">-60</text>
<text x="863" y="1669.3" font-size="21.4" text-anchor="middle" fill="#1a1a1a">60</text>
<text x="830.5" y="1690" font-size="21.4" text-anchor="middle" fill="#1a1a1a">40</text>
<text x="787.8" y="1711.7" font-size="21.4" text-anchor="middle" fill="#1a1a1a">20</text>
<text x="748.3" y="1729.3" font-size="21.4" text-anchor="middle" fill="#1a1a1a">0</text>
<text x="707.7" y="1748.3" font-size="21.4" text-anchor="middle" fill="#1a1a1a">-20</text>
<text x="667.3" y="1771.7" font-size="21.4" text-anchor="middle" fill="#1a1a1a">-40</text>
<text x="626.2" y="1789.3" font-size="21.4" text-anchor="middle" fill="#1a1a1a">-60</text>
<text x="345.5" y="1846.7" font-size="21.7" text-anchor="middle" fill="#1a1a1a">Component 1 (67%)</text>
<text x="15.7" y="1627.2" font-size="21.7" text-anchor="middle" fill="#1a1a1a" transform="rotate(-90 15.7 1627.2)">Component 3 (4%)</text>
<text x="749" y="1769.2" font-size="23" text-anchor="middle" fill="#1a1a1a" transform="rotate(-29.7 749 1769.2)">Component 2 (7%)</text>
<text x="48.7" y="37" font-size="53" text-anchor="middle" font-weight="bold" fill="#231f20" textLength="40.4" lengthAdjust="spacingAndGlyphs">A</text>
<text x="50.6" y="671.7" font-size="53" text-anchor="middle" font-weight="bold" fill="#231f20">B</text>
<text x="51.7" y="1376" font-size="51.6" text-anchor="middle" font-weight="bold" fill="#231f20">C</text>
<text x="1032.5" y="36.8" font-size="53" text-anchor="middle" font-weight="bold" fill="#231f20">D</text>
<text x="1020.5" y="673.6" font-size="53" text-anchor="middle" font-weight="bold" fill="#231f20">E</text>
<text x="1017" y="1375" font-size="53" text-anchor="middle" font-weight="bold" fill="#231f20">F</text>
<rect x="1112.2" y="389.8" width="27.6" height="3.8" fill="#12b04f"/>
<rect x="1148.8" y="235.8" width="27.5" height="157.8" fill="#4aa5d2"/>
<rect x="1185.1" y="255" width="27.6" height="138.6" fill="#dd292b"/>
<rect x="1221.7" y="253" width="27.9" height="140.6" fill="#f8bc1e"/>
<rect x="1277.4" y="317.1" width="27.6" height="76.5" fill="#12b04f"/>
<rect x="1314" y="308.9" width="27.7" height="84.7" fill="#4aa5d2"/>
<rect x="1350.1" y="105.3" width="28" height="288.3" fill="#dd292b"/>
<rect x="1386.9" y="225.2" width="27.3" height="168.4" fill="#f8bc1e"/>
<rect x="1442.4" y="358" width="29.6" height="35.6" fill="#12b04f"/>
<rect x="1478.8" y="300.1" width="29.9" height="93.5" fill="#4aa5d2"/>
<rect x="1515.3" y="235.8" width="27.6" height="157.8" fill="#dd292b"/>
<rect x="1551.7" y="207.8" width="27.9" height="185.8" fill="#f8bc1e"/>
<line x1="1098.65" y1="75.35" x2="1098.65" y2="394.65" stroke="#000" stroke-width="2.1"/>
<line x1="1089.05" y1="393.6" x2="1594.5" y2="393.6" stroke="#000" stroke-width="2.1"/>
<line x1="1089.05" y1="76.4" x2="1098.65" y2="76.4" stroke="#000" stroke-width="2.1"/>
<text x="1074.6" y="85.3" font-size="25.6" text-anchor="end" fill="#5a5a5c">3000</text>
<line x1="1089.05" y1="130.2" x2="1098.65" y2="130.2" stroke="#000" stroke-width="2.1"/>
<text x="1074.6" y="137.5" font-size="25.6" text-anchor="end" fill="#5a5a5c">2500</text>
<line x1="1089.05" y1="183.5" x2="1098.65" y2="183.5" stroke="#000" stroke-width="2.1"/>
<text x="1074.6" y="190.5" font-size="25.6" text-anchor="end" fill="#5a5a5c">2000</text>
<line x1="1089.05" y1="234.8" x2="1098.65" y2="234.8" stroke="#000" stroke-width="2.1"/>
<text x="1074.6" y="244" font-size="25.6" text-anchor="end" fill="#5a5a5c">1500</text>
<line x1="1089.05" y1="288.5" x2="1098.65" y2="288.5" stroke="#000" stroke-width="2.1"/>
<text x="1074.6" y="296.1" font-size="25.6" text-anchor="end" fill="#5a5a5c">1000</text>
<line x1="1089.05" y1="342" x2="1098.65" y2="342" stroke="#000" stroke-width="2.1"/>
<text x="1074.6" y="349.3" font-size="25.6" text-anchor="end" fill="#5a5a5c">500</text>
<text x="1074.6" y="402.4" font-size="25.6" text-anchor="end" fill="#5a5a5c">0</text>
<text x="1180.9" y="432.5" font-size="25.5" text-anchor="middle" fill="#5a5a5c" letter-spacing="0.6" stroke="#5a5a5c" stroke-width="0.25">CON</text>
<text x="1345.2" y="432.5" font-size="25.5" text-anchor="middle" fill="#5a5a5c" letter-spacing="0.6" stroke="#5a5a5c" stroke-width="0.25">HS30</text>
<text x="1511.3" y="432.5" font-size="25.5" text-anchor="middle" fill="#5a5a5c" letter-spacing="0.6" stroke="#5a5a5c" stroke-width="0.25">HS120</text>
<text x="989.4" y="247.3" font-size="26.2" text-anchor="middle" fill="#66605c" transform="rotate(-90 989.4 247.3)">No. DEGs vs Col-0</text>
<rect x="1117" y="1067.9" width="27.4" height="3.2" fill="#12b04f"/>
<rect x="1153.2" y="932.7" width="27.5" height="138.4" fill="#4aa5d2"/>
<rect x="1189.3" y="951.9" width="28" height="119.2" fill="#dd292b"/>
<rect x="1226.1" y="949.9" width="27.7" height="121.2" fill="#f8bc1e"/>
<rect x="1284" y="1068" width="27.6" height="3.1" fill="#12b04f"/>
<rect x="1318.2" y="924.2" width="27.5" height="146.9" fill="#4aa5d2"/>
<rect x="1354.7" y="862" width="27.6" height="209.1" fill="#dd292b"/>
<rect x="1390.9" y="874.8" width="27.9" height="196.3" fill="#f8bc1e"/>
<rect x="1449" y="1050.6" width="27.8" height="20.5" fill="#12b04f"/>
<rect x="1483.2" y="1005.7" width="29.7" height="65.4" fill="#4aa5d2"/>
<rect x="1519.7" y="757" width="30" height="314.1" fill="#dd292b"/>
<rect x="1555.9" y="979.9" width="27.7" height="91.2" fill="#f8bc1e"/>
<line x1="1102.85" y1="750.75" x2="1102.85" y2="1072.15" stroke="#000" stroke-width="2.1"/>
<line x1="1093.25" y1="1071.1" x2="1602" y2="1071.1" stroke="#000" stroke-width="2.1"/>
<line x1="1093.25" y1="751.8" x2="1102.85" y2="751.8" stroke="#000" stroke-width="2.1"/>
<text x="1078.8" y="760.9" font-size="25.6" text-anchor="end" fill="#5a5a5c">3500</text>
<line x1="1093.25" y1="799" x2="1102.85" y2="799" stroke="#000" stroke-width="2.1"/>
<text x="1078.8" y="806.1" font-size="25.6" text-anchor="end" fill="#5a5a5c">3000</text>
<line x1="1093.25" y1="844" x2="1102.85" y2="844" stroke="#000" stroke-width="2.1"/>
<text x="1078.8" y="851.1" font-size="25.6" text-anchor="end" fill="#5a5a5c">2500</text>
<line x1="1093.25" y1="889" x2="1102.85" y2="889" stroke="#000" stroke-width="2.1"/>
<text x="1078.8" y="896" font-size="25.6" text-anchor="end" fill="#5a5a5c">2000</text>
<line x1="1093.25" y1="934" x2="1102.85" y2="934" stroke="#000" stroke-width="2.1"/>
<text x="1078.8" y="940.9" font-size="25.6" text-anchor="end" fill="#5a5a5c">1500</text>
<line x1="1093.25" y1="979" x2="1102.85" y2="979" stroke="#000" stroke-width="2.1"/>
<text x="1078.8" y="985.9" font-size="25.6" text-anchor="end" fill="#5a5a5c">1000</text>
<line x1="1093.25" y1="1024" x2="1102.85" y2="1024" stroke="#000" stroke-width="2.1"/>
<text x="1078.8" y="1030.9" font-size="25.6" text-anchor="end" fill="#5a5a5c">500</text>
<text x="1078.8" y="1078.3" font-size="25.6" text-anchor="end" fill="#5a5a5c">0</text>
<text x="1185.4" y="1108.5" font-size="25.5" text-anchor="middle" fill="#5a5a5c" letter-spacing="0.6" stroke="#5a5a5c" stroke-width="0.25">CON</text>
<text x="1352.5" y="1108.5" font-size="25.5" text-anchor="middle" fill="#5a5a5c" letter-spacing="0.6" stroke="#5a5a5c" stroke-width="0.25">CS3</text>
<text x="1517.3" y="1108.5" font-size="25.5" text-anchor="middle" fill="#5a5a5c" letter-spacing="0.6" stroke="#5a5a5c" stroke-width="0.25">CS72</text>
<text x="993" y="922.7" font-size="26.2" text-anchor="middle" fill="#66605c" transform="rotate(-90 993 922.7)">No. DEGs vs Col-0</text>
<rect x="1103" y="1709" width="27.4" height="32.9" fill="#12b04f"/>
<rect x="1139.2" y="1626.9" width="27.5" height="115" fill="#4aa5d2"/>
<rect x="1175.3" y="1545.8" width="27.8" height="196.1" fill="#dd292b"/>
<rect x="1211.9" y="1571.4" width="27.8" height="170.5" fill="#f8bc1e"/>
<rect x="1268" y="1678.7" width="29.6" height="63.2" fill="#12b04f"/>
<rect x="1304.1" y="1622.7" width="27.6" height="119.2" fill="#4aa5d2"/>
<rect x="1340.7" y="1599.4" width="27.6" height="142.5" fill="#dd292b"/>
<rect x="1376.9" y="1595" width="27.9" height="146.9" fill="#f8bc1e"/>
<rect x="1435" y="1734.2" width="27.6" height="7.7" fill="#12b04f"/>
<rect x="1469.2" y="1552.2" width="29.7" height="189.7" fill="#4aa5d2"/>
<rect x="1505.3" y="1434.6" width="30.4" height="307.3" fill="#dd292b"/>
<rect x="1541.9" y="1593" width="27.9" height="148.9" fill="#f8bc1e"/>
<line x1="1088.9" y1="1423.25" x2="1088.9" y2="1742.95" stroke="#000" stroke-width="2.1"/>
<line x1="1079.3" y1="1741.9" x2="1587" y2="1741.9" stroke="#000" stroke-width="2.1"/>
<line x1="1079.3" y1="1424.3" x2="1088.9" y2="1424.3" stroke="#000" stroke-width="2.1"/>
<text x="1064.7" y="1431.8" font-size="25.6" text-anchor="end" fill="#5a5a5c">6000</text>
<line x1="1079.3" y1="1476.3" x2="1088.9" y2="1476.3" stroke="#000" stroke-width="2.1"/>
<text x="1064.7" y="1485.3" font-size="25.6" text-anchor="end" fill="#5a5a5c">5000</text>
<line x1="1079.3" y1="1529.8" x2="1088.9" y2="1529.8" stroke="#000" stroke-width="2.1"/>
<text x="1064.7" y="1538.8" font-size="25.6" text-anchor="end" fill="#5a5a5c">4000</text>
<line x1="1079.3" y1="1583.2" x2="1088.9" y2="1583.2" stroke="#000" stroke-width="2.1"/>
<text x="1064.7" y="1590.5" font-size="25.6" text-anchor="end" fill="#5a5a5c">3000</text>
<line x1="1079.3" y1="1634.7" x2="1088.9" y2="1634.7" stroke="#000" stroke-width="2.1"/>
<text x="1064.7" y="1643.8" font-size="25.6" text-anchor="end" fill="#5a5a5c">2000</text>
<line x1="1079.3" y1="1688.2" x2="1088.9" y2="1688.2" stroke="#000" stroke-width="2.1"/>
<text x="1064.7" y="1697.3" font-size="25.6" text-anchor="end" fill="#5a5a5c">1000</text>
<text x="1064.7" y="1749" font-size="25.6" text-anchor="end" fill="#5a5a5c">0</text>
<text x="1170" y="1781.1" font-size="25.5" text-anchor="middle" fill="#5a5a5c" letter-spacing="0.6" stroke="#5a5a5c" stroke-width="0.25">CON_SS</text>
<text x="1338.1" y="1781.1" font-size="25.5" text-anchor="middle" fill="#5a5a5c" letter-spacing="0.6" stroke="#5a5a5c" stroke-width="0.25">SS4</text>
<text x="1504.4" y="1781.1" font-size="25.5" text-anchor="middle" fill="#5a5a5c" letter-spacing="0.6" stroke="#5a5a5c" stroke-width="0.25">SS24</text>
<text x="979.6" y="1596.3" font-size="26.2" text-anchor="middle" fill="#66605c" transform="rotate(-90 979.6 1596.3)">No. DEGs vs Col-0</text>
<rect x="703.5" y="1848.5" width="440.2" height="202" fill="#fff" stroke="#222" stroke-width="1.2"/>
<rect x="734.9" y="1871.1" width="20.3" height="20" fill="#050505"/>
<rect x="734.9" y="1907.2" width="20.3" height="20" fill="#0d9f5c"/>
<rect x="734.9" y="1940.3" width="20.3" height="20" fill="#0aa0d3"/>
<rect x="734.9" y="1977.3" width="20.3" height="20" fill="#df2a2c"/>
<rect x="734.9" y="2014.2" width="20.3" height="20" fill="#f39221"/>
<text x="776.5" y="1885.7" font-size="19.27" fill="#1a1a1a">Col-0</text>
<text x="776.5" y="1921.6" font-size="19.27" font-style="italic" fill="#1a1a1a">med9</text>
<text x="776.5" y="1955.9" font-size="19.27" font-style="italic" fill="#1a1a1a">med16</text>
<text x="776.5" y="1994.3" font-size="19.27" font-style="italic" fill="#1a1a1a">med18</text>
<text x="779" y="2028.6" font-size="19.27" font-style="italic" fill="#1a1a1a">cdk8</text>
<rect x="856.3" y="1884" width="20.5" height="20" fill="#050505"/>
<path d="M866.7 1932.5L879.3 1953.3H854.1Z" fill="#050505"/>
<circle cx="866.7" cy="1993.8" r="10.9" fill="#050505"/>
<text x="894.3" y="1901.9" font-size="19.27" fill="#1a1a1a">CONTROL</text>
<text x="894.3" y="1950" font-size="19.27" fill="#1a1a1a">EARLY: HS30, CS3, SS4</text>
<text x="894.3" y="2000.8" font-size="19.27" fill="#1a1a1a">LATE: HS120, CS72, SS24</text>
</svg>
</body></html>
